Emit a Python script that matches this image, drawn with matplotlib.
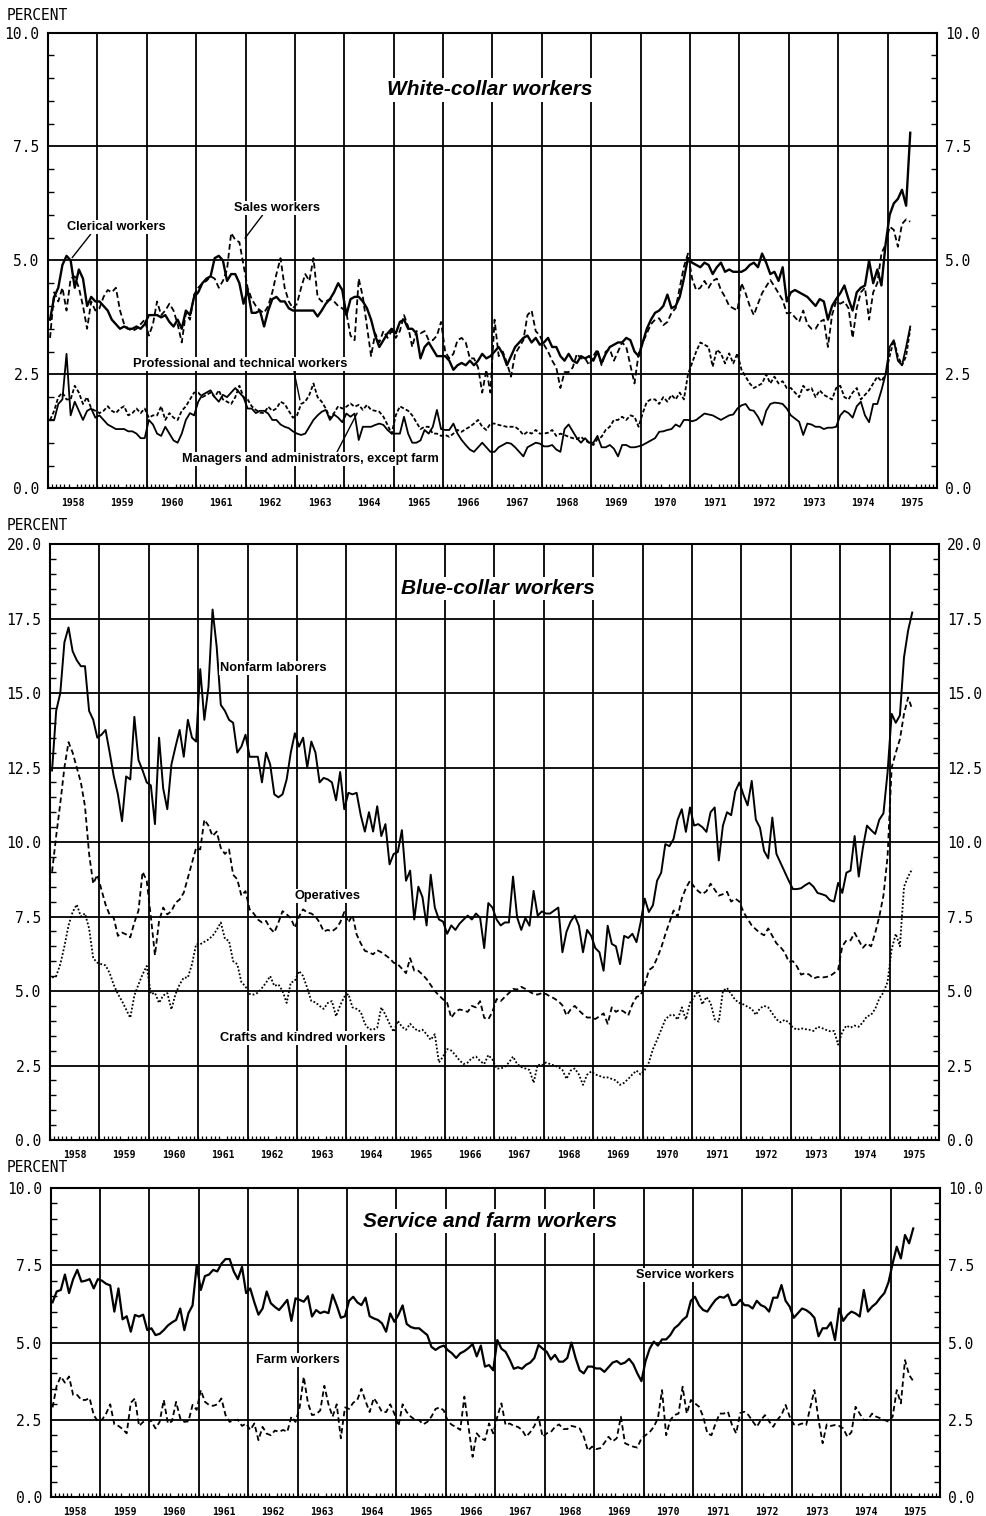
import numpy as np
import matplotlib
matplotlib.use("Agg")
import matplotlib.pyplot as plt
from matplotlib.ticker import FixedLocator, MultipleLocator, FormatStrFormatter

# ---------------------------------------------------------------------------
# Monthly unemployment rates (percent), January 1958 - June 1975
# ---------------------------------------------------------------------------
START_YEAR = 1958
year_labels = [str(y) for y in range(1958, 1976)]

# White-collar workers
clerical = [
    3.7, 4.2, 4.4, 4.9, 5.1, 5.0, 4.4, 4.8, 4.6, 4.0, 4.2, 4.1,
    4.1, 4.0, 3.9, 3.7, 3.6, 3.5, 3.55, 3.5, 3.5, 3.55, 3.5, 3.6,
    3.8, 3.8, 3.8, 3.75, 3.8, 3.65, 3.55, 3.7, 3.5, 3.9, 3.8, 4.2,
    4.3, 4.5, 4.6, 4.65, 5.05, 5.1, 5.0, 4.55, 4.7, 4.7, 4.5, 4.05,
    4.35, 3.85, 3.85, 3.9, 3.55, 3.9, 4.15, 4.2, 4.1, 4.1, 3.95, 3.9,
    3.9, 3.9, 3.9, 3.9, 3.9, 3.77, 3.9, 4.05, 4.15, 4.3, 4.5, 4.35,
    3.8, 4.15, 4.2, 4.2, 4.1, 3.95, 3.7, 3.35, 3.1, 3.25, 3.4, 3.5,
    3.4, 3.65, 3.7, 3.5, 3.5, 3.4, 2.85, 3.1, 3.2, 3.05, 2.9, 2.9,
    2.9, 2.8, 2.6, 2.7, 2.75, 2.7, 2.8, 2.7, 2.8, 2.95, 2.85, 2.9,
    3.0, 3.1, 2.95, 2.7, 2.9, 3.1, 3.2, 3.3, 3.35, 3.2, 3.3, 3.15,
    3.2, 3.3, 3.1, 3.1, 2.9, 2.8, 2.95, 2.8, 2.75, 2.9, 2.85, 2.9,
    2.8, 3.0, 2.75, 2.95, 3.1, 3.15, 3.2, 3.2, 3.3, 3.25, 3.0, 2.9,
    3.2, 3.5, 3.7, 3.85, 3.9, 4.0, 4.25, 3.95, 4.0, 4.2, 4.6, 5.05,
    4.95, 4.9, 4.85, 4.95, 4.9, 4.7, 4.85, 4.95, 4.75, 4.8, 4.75, 4.75,
    4.75, 4.8, 4.9, 4.95, 4.85, 5.15, 4.95, 4.7, 4.75, 4.55, 4.85, 4.1,
    4.3, 4.35, 4.3, 4.25, 4.2, 4.1, 4.0, 4.15, 4.1, 3.7, 4.0, 4.15,
    4.28, 4.45, 4.15, 3.9, 4.3, 4.4, 4.45, 5.0, 4.5, 4.8, 4.45, 5.35,
    6.0, 6.25, 6.35, 6.55, 6.2, 7.8,
]

sales = [
    3.3, 4.3, 4.1, 4.4, 3.9, 4.6, 4.65, 4.4, 4.0, 3.5, 4.1, 3.9,
    3.95, 4.2, 4.35, 4.3, 4.4, 3.9, 3.6, 3.5, 3.45, 3.5, 3.6, 3.7,
    3.35, 3.6, 4.1, 3.8, 3.9, 4.05, 3.9, 3.6, 3.2, 3.85, 3.7, 4.25,
    4.4, 4.5, 4.55, 4.65, 4.6, 4.4, 4.55, 4.8, 5.6, 5.45, 5.4, 4.9,
    4.4, 4.15, 4.0, 3.9, 3.85, 4.0, 4.3, 4.7, 5.05, 4.4, 4.1, 3.95,
    4.05, 4.4, 4.7, 4.55, 5.05, 4.2, 4.1, 4.1, 4.15, 4.1, 4.0, 3.95,
    3.85, 3.35, 3.25, 4.6, 4.2, 3.55, 2.9, 3.4, 3.2, 3.45, 3.3, 3.45,
    3.3, 3.45, 3.8, 3.55, 3.1, 3.45, 3.4, 3.45, 3.25, 3.25, 3.35, 3.65,
    3.0, 2.85, 2.95, 3.25, 3.3, 3.2, 2.85, 2.85, 2.65, 2.1, 2.6, 2.1,
    3.7, 2.9, 3.0, 2.75, 2.45, 2.95, 3.1, 3.25, 3.8, 3.9, 3.45, 3.35,
    3.15, 3.0, 2.8, 2.65, 2.2, 2.55, 2.55, 2.65, 2.95, 2.85, 2.85, 2.7,
    2.9, 3.05, 2.7, 3.0, 3.05, 2.8, 3.0, 3.2, 3.1, 2.7, 2.3, 2.95,
    3.2, 3.4, 3.6, 3.7, 3.73, 3.58, 3.65, 3.85, 3.95, 4.4, 4.86, 5.15,
    4.6, 4.35, 4.4, 4.55, 4.4, 4.55, 4.6, 4.35, 4.2, 4.0, 3.95, 3.9,
    4.5, 4.28, 4.0, 3.8, 4.05, 4.28, 4.43, 4.57, 4.43, 4.28, 4.13, 3.84,
    3.85, 3.75, 3.65, 3.9, 3.6, 3.5, 3.5, 3.65, 3.7, 3.1, 3.8, 4.1,
    4.05, 4.1, 3.95, 3.3, 3.95, 4.3, 4.4, 3.7, 4.3, 4.5, 5.15, 5.35,
    5.74, 5.67, 5.3, 5.8, 5.9, 5.85,
]

professional = [
    1.5, 1.7, 2.0, 2.1, 1.95, 1.95, 2.25, 2.1, 1.85, 2.0, 1.75, 1.7,
    1.65, 1.7, 1.8, 1.7, 1.65, 1.75, 1.8, 1.6, 1.65, 1.75, 1.65, 1.75,
    1.55, 1.6, 1.6, 1.8, 1.5, 1.65, 1.55, 1.5, 1.7, 1.8, 1.95, 2.1,
    2.1, 2.0, 2.05, 2.1, 2.0, 2.15, 1.95, 1.9, 1.85, 2.0, 2.25, 2.0,
    1.95, 1.8, 1.72, 1.66, 1.65, 1.79, 1.7, 1.75, 1.9, 1.85, 1.7, 1.55,
    1.6, 1.85, 1.9, 2.05, 2.3, 2.0, 1.9, 1.75, 1.55, 1.65, 1.8, 1.75,
    1.79, 1.86, 1.79, 1.83, 1.72, 1.83, 1.72, 1.7, 1.68, 1.57, 1.39, 1.2,
    1.6, 1.8, 1.75, 1.7, 1.6, 1.45, 1.3, 1.35, 1.35, 1.2, 1.2, 1.15,
    1.17, 1.13, 1.2, 1.28, 1.24, 1.3, 1.35, 1.42, 1.5, 1.35, 1.28, 1.42,
    1.42, 1.39, 1.37, 1.35, 1.35, 1.35, 1.28, 1.17, 1.24, 1.2, 1.28, 1.2,
    1.2, 1.22, 1.28, 1.15, 1.2, 1.17, 1.13, 1.1, 1.08, 1.13, 1.05, 1.0,
    0.95, 1.08, 1.13, 1.28, 1.35, 1.5, 1.5, 1.57, 1.5, 1.6, 1.57, 1.35,
    1.65, 1.9, 1.95, 1.95, 1.85, 2.0, 1.9, 2.05, 1.95, 2.1, 1.95, 2.5,
    2.75, 3.0, 3.2, 3.15, 3.1, 2.67, 3.04, 2.96, 2.74, 2.96, 2.74, 2.96,
    2.6, 2.45, 2.3, 2.2, 2.25, 2.3, 2.5, 2.3, 2.45, 2.3, 2.35, 2.2,
    2.2, 2.1, 2.0, 2.25, 2.15, 2.2, 2.0, 2.15, 2.05, 2.0, 1.95, 2.2,
    2.25, 2.0, 1.95, 2.1, 2.2, 1.95, 2.05, 2.15, 2.3, 2.45, 2.35, 2.5,
    2.9, 3.25, 2.9, 2.7, 2.9, 3.5,
]

managers = [
    1.5, 1.5, 1.85, 1.95, 2.95, 1.6, 1.9, 1.7, 1.5, 1.7, 1.75, 1.55,
    1.6, 1.5, 1.4, 1.35, 1.3, 1.3, 1.3, 1.25, 1.25, 1.2, 1.1, 1.1,
    1.5, 1.4, 1.2, 1.15, 1.35, 1.2, 1.05, 1.0, 1.2, 1.5, 1.65, 1.6,
    1.9, 2.05, 2.1, 2.15, 2.0, 1.9, 2.05, 2.0, 2.1, 2.2, 2.1, 2.0,
    1.75, 1.75, 1.65, 1.7, 1.7, 1.64, 1.5, 1.5, 1.4, 1.35, 1.32, 1.25,
    1.2, 1.17, 1.2, 1.35, 1.5, 1.6, 1.68, 1.72, 1.5, 1.62, 1.55, 1.45,
    1.64, 1.57, 1.64, 1.06, 1.35, 1.35, 1.35, 1.39, 1.42, 1.39, 1.28, 1.2,
    1.2, 1.2, 1.57, 1.2, 1.0, 1.0, 1.05, 1.28, 1.2, 1.35, 1.72, 1.3,
    1.28, 1.28, 1.42, 1.2, 1.06, 0.95, 0.85, 0.8, 0.9, 1.0, 0.9, 0.8,
    0.8, 0.9, 0.95, 1.0, 0.98, 0.9, 0.8, 0.7, 0.9, 0.95, 1.0, 0.98,
    0.92, 0.92, 0.95, 0.85, 0.8, 1.3, 1.4, 1.25, 1.1, 1.0, 1.1, 1.0,
    1.0, 1.15, 0.9, 0.9, 0.95, 0.87, 0.7, 0.95, 0.95, 0.9, 0.9, 0.92,
    0.95, 1.0, 1.05, 1.1, 1.24, 1.25, 1.28, 1.3, 1.4, 1.35, 1.5, 1.5,
    1.47, 1.5, 1.57, 1.64, 1.62, 1.6, 1.55, 1.5, 1.55, 1.6, 1.62, 1.75,
    1.82, 1.85, 1.72, 1.7, 1.57, 1.39, 1.7, 1.85, 1.88, 1.87, 1.85, 1.75,
    1.6, 1.53, 1.46, 1.17, 1.42, 1.4, 1.35, 1.35, 1.3, 1.33, 1.33, 1.35,
    1.6, 1.7, 1.65, 1.55, 1.8, 1.9, 1.6, 1.45, 1.85, 1.85, 2.15, 2.5,
    3.1, 3.25, 2.8, 2.7, 3.1, 3.55,
]

# Blue-collar workers
nonfarm_laborers = [
    12.4, 14.4, 15.0, 16.7, 17.2, 16.4, 16.1, 15.9, 15.9, 14.4, 14.1, 13.5,
    13.6, 13.76, 13.0, 12.2, 11.6, 10.7, 12.2, 12.1, 14.2, 12.75, 12.4, 12.0,
    11.9, 10.6, 13.5, 11.8, 11.1, 12.6, 13.2, 13.76, 12.86, 14.1, 13.5, 13.37,
    15.8, 14.1, 15.2, 17.8, 16.55, 14.6, 14.4, 14.1, 14.0, 13.0, 13.2, 13.6,
    12.86, 12.86, 12.86, 12.0, 13.0, 12.6, 11.6, 11.5, 11.6, 12.1, 13.0, 13.65,
    13.2, 13.5, 12.5, 13.37, 13.0, 12.0, 12.15, 12.1, 12.0, 11.4, 12.35, 11.1,
    11.65, 11.6, 11.65, 10.9, 10.35, 11.0, 10.35, 11.2, 10.2, 10.6, 9.25, 9.6,
    9.66, 10.4, 8.7, 9.04, 7.4, 8.5, 8.15, 7.2, 8.9, 7.8, 7.4, 7.33,
    6.92, 7.2, 7.05, 7.26, 7.4, 7.53, 7.4, 7.6, 7.46, 6.44, 7.95, 7.8,
    7.4, 7.2, 7.3, 7.3, 8.84, 7.47, 7.05, 7.45, 7.19, 8.36, 7.53, 7.67,
    7.6, 7.6, 7.7, 7.8, 6.3, 6.99, 7.33, 7.53, 7.19, 6.3, 7.05, 6.85,
    6.44, 6.3, 5.68, 7.19, 6.58, 6.5, 5.9, 6.85, 6.78, 6.92, 6.64, 7.3,
    8.1, 7.65, 7.88, 8.7, 8.97, 9.93, 9.86, 10.1, 10.75, 11.1, 10.34, 11.16,
    10.55, 10.6, 10.5, 10.34, 11.0, 11.16, 9.38, 10.55, 11.0, 10.9, 11.7, 12.0,
    11.58, 11.23, 12.05, 10.75, 10.48, 9.7, 9.45, 10.82, 9.6, 9.3, 9.0, 8.7,
    8.42, 8.42, 8.45, 8.55, 8.63, 8.5, 8.29, 8.25, 8.2, 8.05, 8.0, 8.63,
    8.29, 8.97, 9.04, 10.2, 8.84, 9.8, 10.55, 10.4, 10.27, 10.75, 10.96, 12.33,
    14.3, 14.0, 14.25, 16.2, 17.1, 17.7,
]

operatives = [
    9.0, 10.2, 11.3, 12.5, 13.35, 13.0, 12.5, 12.0, 11.2, 9.6, 8.6, 8.9,
    8.4, 7.9, 7.55, 7.45, 6.85, 6.96, 6.9, 6.8, 7.3, 7.7, 9.0, 8.7,
    7.5, 6.2, 7.35, 7.8, 7.57, 7.68, 7.96, 8.07, 8.3, 8.8, 9.3, 9.8,
    9.75, 10.75, 10.55, 10.2, 10.35, 9.8, 9.6, 9.75, 8.9, 8.75, 8.2, 8.35,
    7.74, 7.6, 7.4, 7.3, 7.35, 7.1, 6.96, 7.3, 7.68, 7.57, 7.45, 7.12,
    7.5, 7.74, 7.63, 7.6, 7.5, 7.3, 7.0, 7.05, 7.0, 7.1, 7.3, 7.65,
    7.3, 7.55, 6.9, 6.6, 6.35, 6.3, 6.23, 6.37, 6.3, 6.2, 6.1, 5.95,
    5.9, 5.75, 5.6, 6.1, 5.68, 5.68, 5.55, 5.4, 5.2, 5.0, 4.85, 4.72,
    4.6, 4.1, 4.3, 4.38, 4.35, 4.3, 4.5, 4.45, 4.66, 4.1, 4.05, 4.3,
    4.73, 4.66, 4.8, 4.93, 5.07, 5.05, 5.14, 5.07, 4.98, 4.9, 4.88, 4.93,
    4.9, 4.82, 4.75, 4.66, 4.52, 4.18, 4.38, 4.5, 4.35, 4.22, 4.11, 4.11,
    4.06, 4.15, 4.25, 3.9, 4.45, 4.3, 4.38, 4.3, 4.18, 4.55, 4.8, 4.85,
    5.2, 5.7, 5.8, 6.1, 6.45, 6.9, 7.3, 7.7, 7.5, 8.1, 8.45, 8.7,
    8.5, 8.35, 8.25, 8.35, 8.6, 8.4, 8.2, 8.25, 8.33, 8.0, 8.1, 8.0,
    7.65, 7.42, 7.2, 7.07, 6.95, 6.87, 7.1, 6.85, 6.6, 6.47, 6.3, 5.98,
    6.0, 5.82, 5.55, 5.6, 5.55, 5.42, 5.47, 5.45, 5.47, 5.5, 5.6, 5.72,
    6.5, 6.7, 6.7, 6.95, 6.7, 6.45, 6.6, 6.5, 6.95, 7.5, 8.2, 9.5,
    12.5, 13.0, 13.45, 14.3, 14.85, 14.45,
]

crafts = [
    5.45, 5.5, 5.9, 6.5, 7.2, 7.65, 7.9, 7.5, 7.6, 7.1, 6.1, 5.95,
    5.9, 5.86, 5.6, 5.2, 4.9, 4.66, 4.38, 4.1, 4.85, 5.22, 5.56, 5.84,
    4.9, 4.94, 4.6, 4.85, 4.93, 4.38, 4.9, 5.22, 5.45, 5.45, 5.9, 6.57,
    6.57, 6.65, 6.73, 6.85, 7.05, 7.3, 6.75, 6.68, 6.0, 5.9, 5.3, 5.15,
    4.9, 4.88, 4.94, 5.1, 5.28, 5.5, 5.17, 5.22, 5.0, 4.6, 5.28, 5.34,
    5.67, 5.5, 5.1, 4.66, 4.62, 4.5, 4.4, 4.6, 4.66, 4.15, 4.52, 4.8,
    4.9, 4.45, 4.4, 4.3, 3.9, 3.72, 3.7, 3.77, 4.45, 4.2, 3.9, 3.63,
    4.0, 3.8, 3.7, 3.9, 3.75, 3.65, 3.7, 3.55, 3.36, 3.55, 2.6, 2.8,
    3.05, 3.0, 2.85, 2.67, 2.55, 2.6, 2.75, 2.8, 2.65, 2.55, 2.85, 2.7,
    2.4, 2.4, 2.45, 2.6, 2.8, 2.55, 2.45, 2.4, 2.35, 1.92, 2.53, 2.5,
    2.6, 2.55, 2.5, 2.45, 2.35, 2.05, 2.33, 2.4, 2.2, 1.85, 2.19, 2.3,
    2.2, 2.15, 2.1, 2.1, 2.05, 2.0, 1.85, 1.92, 2.05, 2.2, 2.33, 2.2,
    2.35, 2.6, 3.05, 3.36, 3.7, 4.04, 4.18, 4.2, 4.04, 4.45, 4.04, 4.6,
    4.8, 5.0, 4.55, 4.8, 4.6, 4.05, 3.97, 5.0, 5.1, 4.9, 4.7, 4.6,
    4.55, 4.47, 4.4, 4.2, 4.42, 4.5, 4.45, 4.25, 4.05, 3.95, 4.03, 3.95,
    3.77, 3.7, 3.75, 3.72, 3.7, 3.66, 3.8, 3.76, 3.7, 3.65, 3.66, 3.2,
    3.63, 3.84, 3.77, 3.84, 3.8, 3.95, 4.15, 4.2, 4.4, 4.75, 4.95, 5.3,
    6.4, 6.92, 6.5, 8.5, 8.84, 9.1,
]

# Service and farm workers
service = [
    6.3, 6.65, 6.7, 7.2, 6.6, 7.05, 7.35, 6.97, 7.0, 7.05, 6.75, 7.05,
    7.0, 6.9, 6.85, 6.0, 6.75, 5.75, 5.85, 5.35, 5.89, 5.84, 5.9, 5.4,
    5.46, 5.24, 5.28, 5.4, 5.55, 5.65, 5.73, 6.1, 5.4, 5.95, 6.2, 7.5,
    6.7, 7.15, 7.2, 7.35, 7.3, 7.55, 7.7, 7.7, 7.3, 7.05, 7.45, 6.6,
    6.75, 6.3, 5.9, 6.1, 6.65, 6.27, 6.15, 6.05, 6.21, 6.38, 5.7, 6.43,
    6.38, 6.32, 6.5, 5.84, 6.05, 5.95, 6.0, 5.95, 6.55, 6.2, 5.8, 5.85,
    6.35, 6.48, 6.3, 6.21, 6.45, 5.85, 5.78, 5.73, 5.62, 5.35, 5.94, 5.67,
    5.9, 6.2, 5.6, 5.5, 5.46, 5.46, 5.35, 5.24, 4.86, 4.76, 4.85, 4.9,
    4.75, 4.65, 4.5, 4.65, 4.72, 4.82, 4.95, 4.55, 4.9, 4.22, 4.27, 4.1,
    5.08, 4.8, 4.7, 4.45, 4.15, 4.2, 4.15, 4.28, 4.35, 4.5, 4.92, 4.8,
    4.7, 4.45, 4.6, 4.38, 4.38, 4.5, 5.0, 4.5, 4.1, 4.0, 4.22, 4.22,
    4.16, 4.16, 4.05, 4.2, 4.35, 4.4, 4.3, 4.35, 4.47, 4.3, 4.0, 3.75,
    4.4, 4.8, 5.03, 4.9, 5.1, 5.1, 5.24, 5.46, 5.57, 5.73, 5.84, 6.35,
    6.48, 6.2, 6.05, 6.0, 6.2, 6.38, 6.48, 6.45, 6.55, 6.21, 6.22, 6.38,
    6.21, 6.2, 6.1, 6.35, 6.21, 6.15, 6.0, 6.45, 6.45, 6.86, 6.35, 6.16,
    5.8, 5.95, 6.1, 6.05, 5.95, 5.8, 5.2, 5.46, 5.46, 5.65, 5.08, 6.1,
    5.7, 5.89, 6.0, 5.94, 5.84, 6.7, 6.0, 6.16, 6.27, 6.45, 6.6, 6.95,
    7.56, 8.1, 7.72, 8.48, 8.21, 8.69,
]

farm = [
    2.9, 3.6, 3.9, 3.7, 3.9, 3.3, 3.3, 3.14, 3.14, 3.2, 2.65, 2.45,
    2.5, 2.7, 3.0, 2.35, 2.3, 2.2, 2.06, 3.05, 3.19, 2.3, 2.43, 2.5,
    2.45, 2.22, 2.43, 3.14, 2.38, 2.45, 3.08, 2.55, 2.43, 2.45, 2.98, 2.82,
    3.46, 3.08, 2.98, 2.95, 3.0, 3.19, 2.65, 2.43, 2.49, 2.5, 2.3, 2.38,
    2.17, 2.38, 1.84, 2.27, 2.05, 2.0, 2.15, 2.11, 2.17, 2.11, 2.6, 2.43,
    2.9, 3.89, 3.05, 2.65, 2.68, 2.8, 3.6, 3.0, 2.6, 3.0, 1.9, 2.9,
    2.85, 3.05, 3.14, 3.5, 3.1, 2.75, 3.2, 3.0, 2.75, 2.75, 3.0, 2.7,
    2.3, 3.0, 2.75, 2.6, 2.5, 2.49, 2.35, 2.43, 2.6, 2.85, 2.9, 2.8,
    2.45, 2.33, 2.27, 2.17, 3.25, 2.27, 1.3, 2.06, 1.9, 1.84, 2.38, 2.06,
    2.6, 3.03, 2.33, 2.38, 2.3, 2.27, 2.17, 1.95, 2.1, 2.3, 2.6, 1.95,
    2.06, 2.1, 2.27, 2.35, 2.2, 2.2, 2.3, 2.27, 2.22, 1.95, 1.5, 1.63,
    1.55, 1.58, 1.75, 1.95, 1.8, 1.9, 2.6, 1.74, 1.68, 1.63, 1.6, 1.9,
    2.0, 2.1, 2.27, 2.55, 3.46, 2.0, 2.49, 2.65, 2.7, 3.57, 2.7, 3.14,
    3.03, 2.92, 2.6, 2.06, 2.0, 2.38, 2.7, 2.7, 2.76, 2.33, 2.06, 2.72,
    2.76, 2.65, 2.45, 2.27, 2.49, 2.65, 2.45, 2.27, 2.5, 2.65, 2.98, 2.6,
    2.35, 2.33, 2.38, 2.33, 2.9, 3.46, 2.5, 1.74, 2.35, 2.3, 2.33, 2.3,
    2.22, 1.95, 2.1, 2.92, 2.7, 2.49, 2.5, 2.7, 2.6, 2.55, 2.49, 2.44,
    2.6, 3.46, 3.03, 4.43, 3.95, 3.75,
]

# ---------------------------------------------------------------------------
MONO = "DejaVu Sans Mono"
SANS = "Liberation Sans"
INK = "black"


def month_positions(series):
    """Mid-month positions in fractional years."""
    return START_YEAR + (np.arange(len(series)) + 0.5) / 12.0


def frame(ax, ymax):
    ax.set_xlim(1958, 1976)
    ax.set_ylim(0, ymax)
    for sp in ax.spines.values():
        sp.set_linewidth(1.5)
        sp.set_color(INK)
    # year separators
    ax.vlines(np.arange(1959, 1976), 0, ymax, color=INK, lw=1.3, zorder=1)
    # horizontal reference lines
    ax.yaxis.set_major_locator(MultipleLocator(2.5))
    ax.yaxis.set_minor_locator(MultipleLocator(0.5))
    ax.yaxis.set_major_formatter(FormatStrFormatter("%.1f"))
    ax.grid(axis="y", which="major", color=INK, lw=1.3, zorder=1)
    ax.set_axisbelow(True)
    ax.tick_params(axis="y", which="both", direction="in", left=True, right=True,
                   labelleft=True, labelright=True, colors=INK)
    ax.tick_params(axis="y", which="major", length=0, pad=6, labelsize=10.5)
    ax.tick_params(axis="y", which="minor", length=4, width=1.0)
    for lab in ax.get_yticklabels():
        lab.set_family(MONO)
    # years centred within their span, monthly ticks along the bottom
    ax.xaxis.set_major_locator(FixedLocator(np.arange(1958, 1976) + 0.5))
    ax.set_xticklabels(year_labels)
    ax.xaxis.set_minor_locator(FixedLocator(np.arange(1958, 1976, 1 / 12.0)))
    ax.tick_params(axis="x", which="major", length=0, pad=7, labelsize=7)
    ax.tick_params(axis="x", which="minor", direction="in", length=3, width=0.9,
                   bottom=True, top=False)
    for lab in ax.get_xticklabels():
        lab.set_family(MONO)
        lab.set_fontweight("bold")


def title(ax, text, x, y):
    ax.text(x, y, text, transform=ax.transAxes, ha="center", va="center",
            family=SANS, fontsize=15, fontweight="bold", style="italic",
            color=INK, zorder=5,
            bbox=dict(facecolor="white", edgecolor="none", pad=1.5))


def label(ax, text, xy_text, xy=None, relpos=(0.5, 0.0)):
    kw = dict(ha="center", va="center", family=SANS, fontsize=9.2,
              fontweight="bold", color=INK, zorder=5,
              bbox=dict(facecolor="white", edgecolor="none", pad=0.8))
    if xy is None:
        ax.text(xy_text[0], xy_text[1], text, **kw)
    else:
        ax.annotate(text, xy=xy, xytext=xy_text,
                    arrowprops=dict(arrowstyle="-", lw=1.0, color=INK,
                                    shrinkA=0, shrinkB=0, relpos=relpos),
                    **kw)


fig = plt.figure(figsize=(9.86, 15.16), dpi=100)
ax1 = fig.add_axes([0.04868, 0.67790, 0.90162, 0.30066])
ax2 = fig.add_axes([0.05071, 0.24802, 0.90162, 0.39314])
ax3 = fig.add_axes([0.05122, 0.01253, 0.90213, 0.20383])

# ---- White-collar workers --------------------------------------------------
frame(ax1, 10)
ax1.plot(month_positions(clerical), clerical, color=INK, lw=1.7, zorder=3)
ax1.plot(month_positions(sales), sales, color=INK, lw=1.3,
         linestyle=(0, (3.2, 1.8)), zorder=3)
ax1.plot(month_positions(professional), professional, color=INK, lw=1.3,
         linestyle=(0, (2.2, 1.2)), zorder=3)
ax1.plot(month_positions(managers), managers, color=INK, lw=1.3, zorder=3)
title(ax1, "White-collar workers", 0.497, 0.874)
label(ax1, "Clerical workers", (1959.38, 5.73), xy=(1958.49, 5.06), relpos=(0.25, 0.0))
label(ax1, "Sales workers", (1962.64, 6.15), xy=(1961.99, 5.49), relpos=(0.34, 0.0))
label(ax1, "Professional and technical workers", (1961.89, 2.73),
      xy=(1963.10, 1.94), relpos=(0.75, 0.0))
label(ax1, "Managers and administrators, except farm", (1963.32, 0.64),
      xy=(1964.26, 1.65), relpos=(0.6, 1.0))

# ---- Blue-collar workers ---------------------------------------------------
frame(ax2, 20)
ax2.plot(month_positions(nonfarm_laborers), nonfarm_laborers, color=INK, lw=1.4, zorder=3)
ax2.plot(month_positions(operatives), operatives, color=INK, lw=1.3,
         linestyle=(0, (3.0, 1.8)), zorder=3)
ax2.plot(month_positions(crafts), crafts, color=INK, lw=1.3,
         linestyle=(0, (1.0, 1.1)), zorder=3)
title(ax2, "Blue-collar workers", 0.504, 0.926)
label(ax2, "Nonfarm laborers", (1962.52, 15.84))
label(ax2, "Operatives", (1963.61, 8.19))
label(ax2, "Crafts and kindred workers", (1963.11, 3.42))

# ---- Service and farm workers ----------------------------------------------
frame(ax3, 10)
ax3.plot(month_positions(service), service, color=INK, lw=1.6, zorder=3)
ax3.plot(month_positions(farm), farm, color=INK, lw=1.3,
         linestyle=(0, (3.0, 1.8)), zorder=3)
title(ax3, "Service and farm workers", 0.494, 0.893)
label(ax3, "Service workers", (1970.84, 7.18))
label(ax3, "Farm workers", (1963.0, 4.43))

# unit captions above each panel
for ypix in (15, 525, 1168):
    fig.text(7 / 986, 1 - ypix / 1516, "PERCENT", ha="left", va="center",
             family=MONO, fontsize=10.5, color=INK)

fig.savefig("out.png", dpi=100, facecolor="white")
